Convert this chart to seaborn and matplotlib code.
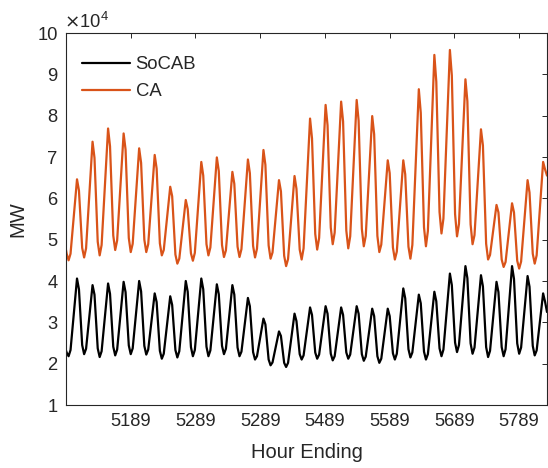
import numpy as np
import pandas as pd
import matplotlib
matplotlib.use("Agg")
import matplotlib.pyplot as plt
import seaborn as sns

# hourly load, five points per day:
# night (hour 2), trough (hour 5), morning (hour 8), peak (hour 18), shoulder (hour 21)
first_hour = 5089
last_hour = 5832
day0_start = 5088
day_hours = [2, 5, 8, 18, 21]

ca_night = [46600, 48000, 49500, 51000, 50400, 50000, 49100, 46400, 46700, 48900,
            48700, 48300, 48500, 48600, 46100, 47600, 51400, 52900, 52200, 52600,
            50900, 48100, 48300, 53000, 56700, 56200, 53700, 49000, 45200, 44900,
            46600]
ca_trough = [45000, 45700, 46200, 47500, 47000, 47000, 46200, 44200, 44900, 46200,
             45800, 45800, 45700, 45400, 43600, 45200, 47600, 48900, 47900, 48400,
             47000, 45200, 45400, 48400, 51500, 50800, 48900, 45200, 43400, 43000,
             44200]
ca_morning = [46600, 47900, 48700, 49800, 49000, 48900, 47500, 45400, 46800, 48100,
              47400, 47700, 47800, 46900, 45300, 47900, 50400, 51700, 50800, 50900,
              48800, 47100, 48700, 52100, 55100, 53800, 51100, 46300, 44600, 44700,
              46200]
ca_peak = [64600, 73700, 76900, 75700, 72100, 70500, 62800, 59600, 68800, 69900,
           66400, 69400, 71700, 64400, 65400, 79300, 82600, 83400, 83800, 79900,
           69200, 69200, 86400, 94700, 95900, 88800, 76700, 58400, 58800, 64400,
           68800]
ca_shoulder = [61900, 69800, 72600, 71800, 68600, 67200, 60500, 57400, 65500, 66600,
               63500, 66100, 68100, 61700, 62300, 74500, 77700, 78600, 78800, 75500,
               66100, 65800, 80700, 88200, 89700, 83500, 72800, 56600, 56600, 61400,
               67000]
ca_ends = [47500, 65500]

socab_night = [22700, 24500, 23700, 24100, 24400, 24300, 23100, 23300, 24000, 24100,
               24300, 23900, 22800, 21000, 20200, 22300, 22700, 22400, 22700, 22300,
               21800, 22500, 23500, 22900, 23700, 25100, 24900, 24000, 24000, 24900,
               24300]
socab_trough = [21800, 22300, 21600, 22000, 22300, 22200, 21200, 21500, 21800, 21800,
                22300, 21800, 21000, 19600, 19200, 21000, 21200, 20800, 21200, 20700,
                20200, 21000, 21500, 21000, 21800, 22800, 22400, 21600, 21800, 22400,
                22000]
socab_morning = [23300, 23600, 23000, 23400, 23700, 23400, 22400, 23000, 23300, 23200,
                 23600, 22900, 21800, 20300, 20200, 22000, 22200, 21800, 22200, 21700,
                 21200, 22400, 22700, 22300, 23400, 24500, 23900, 23100, 23500, 23900,
                 23200]
socab_peak = [40600, 39000, 39400, 39800, 40000, 37000, 36300, 40000, 40600, 39200,
              39000, 35900, 30900, 27800, 32100, 33600, 33900, 33600, 33900, 33300,
              33300, 38200, 36700, 37400, 41800, 43600, 41400, 39800, 43600, 41200,
              37000]
socab_shoulder = [38000, 36700, 36900, 37300, 37500, 34900, 34200, 37400, 38000, 36800,
                  36700, 33900, 29500, 26700, 30300, 31800, 32100, 31800, 32100, 31500,
                  31500, 35800, 34600, 35100, 39000, 40700, 38700, 37300, 40500, 38600,
                  35000]
socab_ends = [23200, 32500]

regions = ["SoCAB", "CA"]
colors = {"SoCAB": "#000000", "CA": "#D95319"}

xtick_pos = [5189, 5289, 5389, 5489, 5589, 5689, 5789]
xtick_labels = ["5189", "5289", "5289", "5489", "5589", "5689", "5789"]
ytick_pos = [10000, 20000, 30000, 40000, 50000, 60000, 70000, 80000, 90000, 100000]
ytick_labels = ["1", "2", "3", "4", "5", "6", "7", "8", "9", "10"]


def build_series(name, daily, ends):
    hours = [first_hour]
    vals = [ends[0]]
    for k, day_vals in enumerate(zip(*daily)):
        start = day0_start + 24 * k
        hours += [start + h for h in day_hours]
        vals += list(day_vals)
    hours.append(last_hour)
    vals.append(ends[1])
    return pd.DataFrame({"hour": hours, "MW": vals, "region": name})


df = pd.concat([
    build_series("SoCAB", [socab_night, socab_trough, socab_morning, socab_peak, socab_shoulder],
                 socab_ends),
    build_series("CA", [ca_night, ca_trough, ca_morning, ca_peak, ca_shoulder], ca_ends),
], ignore_index=True)

sns.set_style("white")
plt.rcParams["font.family"] = ["Liberation Sans", "DejaVu Sans"]

fig = plt.figure(figsize=(5.48, 4.68), dpi=100)
ax = fig.add_axes([66 / 548, 63 / 468, 481 / 548, 372 / 468])

sns.lineplot(data=df, x="hour", y="MW", hue="region", hue_order=regions,
             palette=colors, linewidth=1.6, estimator=None, sort=True, ax=ax)

ax.set_xlim(first_hour, last_hour)
ax.set_ylim(10000, 100000)
ax.set_xticks(xtick_pos)
ax.set_xticklabels(xtick_labels)
ax.set_yticks(ytick_pos)
ax.set_yticklabels(ytick_labels)
ax.tick_params(direction="in", length=3.5, width=0.7, colors="#262626",
               labelcolor="#262626", labelsize=13.2, top=True, right=True, pad=6)
for s in ax.spines.values():
    s.set_visible(True)
    s.set_color("#262626")
    s.set_linewidth(0.8)

ax.set_xlabel("Hour Ending", fontsize=14.5, color="#262626", labelpad=9)
ax.set_ylabel("MW", fontsize=14.5, color="#262626", labelpad=7.5)

fig.text(64 / 548, 1 - 22 / 468, r"$\times\mathregular{10^{4}}$", fontsize=13.2,
         color="#262626", va="center", ha="left")

handles, labels = ax.get_legend_handles_labels()
ax.legend(handles, labels, loc="upper left", bbox_to_anchor=(82 / 548, 1 - 56 / 468),
          bbox_transform=fig.transFigure, frameon=False, fontsize=13.3,
          handlelength=2.6, handletextpad=0.3, labelspacing=0.55,
          borderpad=0, borderaxespad=0)

fig.savefig("out.png", dpi=100)
plt.close()
